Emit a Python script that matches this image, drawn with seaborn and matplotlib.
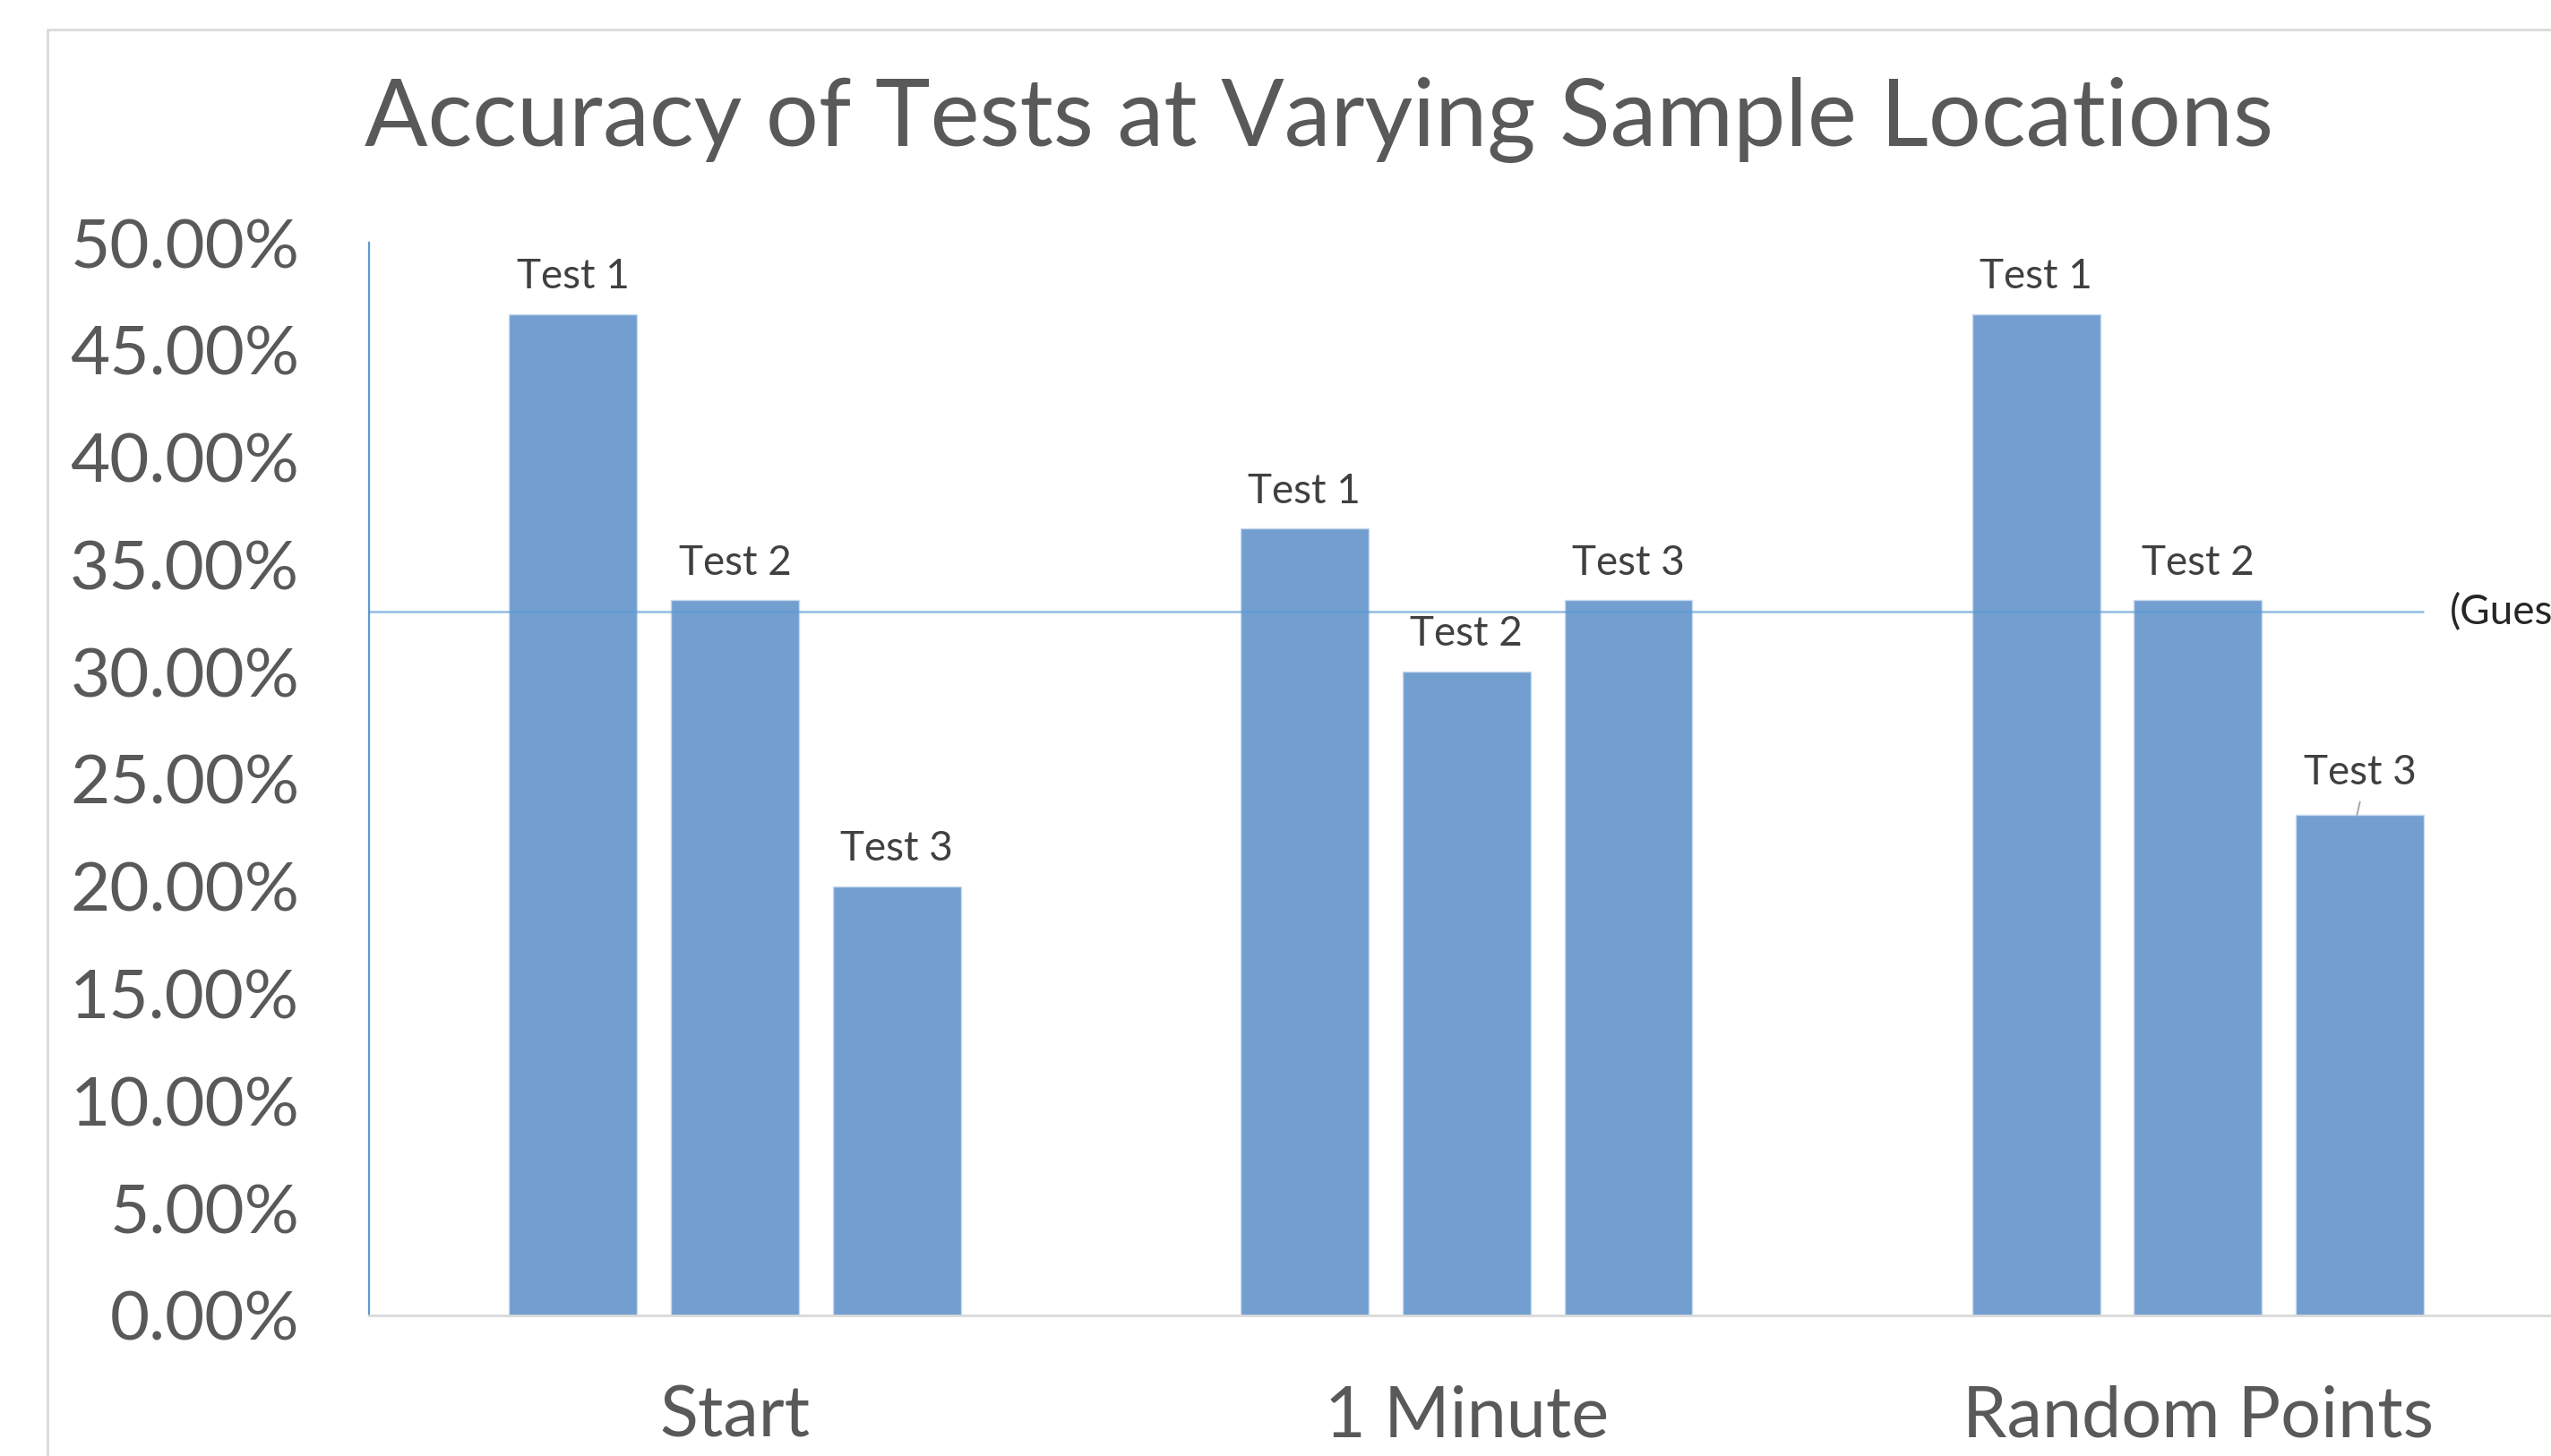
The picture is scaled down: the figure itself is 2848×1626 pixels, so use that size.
import seaborn as sns
import matplotlib.pyplot as plt
import pandas as pd
from matplotlib.patches import Rectangle

# Chart data
locations = ['Start', '1 Minute', 'Random Points']
tests = ['Test 1', 'Test 2', 'Test 3']
test1 = [0.4667, 0.3667, 0.4667]
test2 = [0.3333, 0.3000, 0.3333]
test3 = [0.2000, 0.3333, 0.2333]
guess_level = 0.328
guess_label = '(Guessing)'
title = 'Accuracy of Tests at Varying Sample Locations'
y_ticks = [i * 0.05 for i in range(11)]

data = pd.DataFrame({
    'location': locations * 3,
    'test': [t for t in tests for _ in locations],
    'accuracy': test1 + test2 + test3,
})

# Setting the seaborn style
sns.set_theme(style='white')
plt.rcParams['font.family'] = ['Lato', 'DejaVu Sans']

bar_color = '#729fcf'
fig = plt.figure(figsize=(28.48, 16.26), dpi=100)
ax = fig.add_axes([0.1447, 0.0966, 0.8603, 0.7367])

sns.barplot(
    data=data, x='location', y='accuracy', hue='test',
    order=locations, hue_order=tests,
    palette=[bar_color] * 3, width=0.664, gap=0.21,
    edgecolor='#c8daee', linewidth=1.0, saturation=1,
    legend=False, ax=ax, zorder=2
)

ax.set_xlim(-0.5, 2.5)
ax.set_ylim(0, 0.5)
ax.set_yticks(y_ticks)
ax.set_yticklabels([f'{v * 100:.2f}%' for v in y_ticks])
ax.set_xlabel('')
ax.set_ylabel('')
ax.tick_params(axis='y', length=0, pad=56, labelsize=55, labelcolor='#595959')
ax.tick_params(axis='x', length=0, pad=56, labelsize=57, labelcolor='#595959')

for side in ['top', 'right']:
    ax.spines[side].set_visible(False)
ax.spines['left'].set_color('#5b9bd5')
ax.spines['left'].set_linewidth(1.6)
ax.spines['bottom'].set_color('#d9d9d9')
ax.spines['bottom'].set_linewidth(2.0)

# Bar labels (hue names on top of each bar)
for i, (cont, name) in enumerate(zip(ax.containers, tests)):
    labels = [name] * len(locations)
    if i == 2:
        labels[2] = ''
    ax.bar_label(cont, labels=labels, padding=15, fontsize=33, color='#404040')

# Last label sits a bit higher with a leader line
last = ax.containers[2][2]
lx = last.get_x() + last.get_width() / 2
ax.annotate(tests[2], xy=(lx, last.get_height()), xytext=(0, 19),
            textcoords='offset points', ha='center', va='bottom',
            fontsize=33, color='#404040')
ax.annotate('', xy=(lx - 0.004, last.get_height()),
            xytext=(lx, last.get_height() + 0.006),
            arrowprops=dict(arrowstyle='-', color='#a6a6a6', lw=1.4,
                            shrinkA=0, shrinkB=0))

# Guessing reference line
line_end = last.get_x() + last.get_width()
ax.hlines(guess_level, -0.5, line_end, color='#5b9bd5', alpha=0.6,
          linewidth=2.0, zorder=3)
ax.text(line_end + 0.035, guess_level, guess_label, ha='left', va='center',
        fontsize=33, color='#262626', clip_on=False)

# Title
fig.text(0.517, 0.8998, title, ha='center', va='baseline', fontsize=75,
         color='#595959')

# Chart area border
fig.patches.append(Rectangle((0.0187, -0.1), 1.2, 1.08, transform=fig.transFigure,
                             fill=False, edgecolor='#d9d9d9', linewidth=2.0))

plt.savefig('out.png', dpi=100)
